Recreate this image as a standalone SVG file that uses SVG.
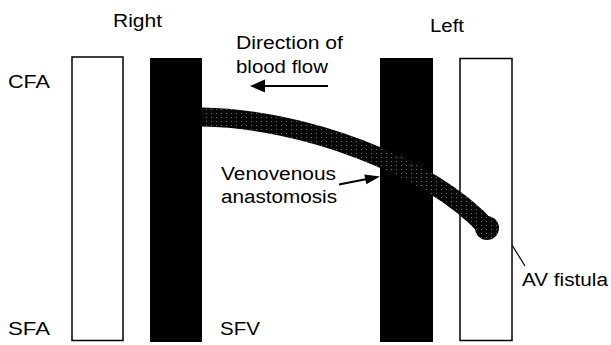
<svg xmlns="http://www.w3.org/2000/svg" width="611" height="345" viewBox="0 0 611 345">
  <style>
    .lbl { font-family: "Liberation Sans", Arial, sans-serif; font-size: 18px; fill: #000; }
    .artery { fill: #fff; stroke: #000; stroke-width: 1.5; }
    .vein { fill: #000; }
    .conn { stroke: #000; fill: none; }
  </style>
  <defs>
    <pattern id="stipple" patternUnits="userSpaceOnUse" width="5" height="4">
      <rect width="5" height="4" fill="#080808"/>
      <rect x="1" y="1" width="1" height="1" fill="#6e6e6e"/>
    </pattern>
  </defs>
  <rect width="611" height="345" fill="#fff"/>

  <g id="right-artery"><rect class="artery" x="72" y="57" width="51" height="283.5"/></g>
  <g id="right-vein"><rect class="vein" x="150" y="58" width="52" height="284"/></g>
  <g id="left-vein"><rect class="vein" x="380" y="58" width="53" height="284"/></g>
  <g id="left-artery"><rect class="artery" x="460" y="58.5" width="52" height="282"/></g>

  <g id="shunt">
    <path d="M202,117 C300,118 430,165 487,228" fill="none" stroke="url(#stipple)" stroke-width="19"/>
    <circle cx="487" cy="228" r="12" fill="url(#stipple)"/>
  </g>

  <g id="connectors">
    <line class="conn" x1="328" y1="86" x2="262" y2="86" stroke-width="2"/>
    <polygon points="250,86 265,79.5 265,92.5" fill="#000"/>
    <line class="conn" x1="339" y1="184.5" x2="367" y2="179" stroke-width="2"/>
    <polygon points="380,176.5 366.3,184.3 364.3,174.5" fill="#000"/>
    <line class="conn" x1="512" y1="245" x2="525" y2="266" stroke-width="1.2"/>
  </g>

  <g id="labels">
    <text class="lbl" x="113" y="27" textLength="49" lengthAdjust="spacingAndGlyphs">Right</text>
    <text class="lbl" x="430" y="32" textLength="34" lengthAdjust="spacingAndGlyphs">Left</text>
    <text class="lbl" x="8" y="88" textLength="42" lengthAdjust="spacingAndGlyphs">CFA</text>
    <text class="lbl" x="236" y="49" textLength="107" lengthAdjust="spacingAndGlyphs">Direction of</text>
    <text class="lbl" x="236" y="73" textLength="92" lengthAdjust="spacingAndGlyphs">blood flow</text>
    <text class="lbl" x="221" y="180" textLength="115" lengthAdjust="spacingAndGlyphs">Venovenous</text>
    <text class="lbl" x="221" y="203" textLength="116" lengthAdjust="spacingAndGlyphs">anastomosis</text>
    <text class="lbl" x="522" y="286" textLength="86" lengthAdjust="spacingAndGlyphs">AV fistula</text>
    <text class="lbl" x="8" y="335" textLength="42" lengthAdjust="spacingAndGlyphs">SFA</text>
    <text class="lbl" x="220" y="335" textLength="40" lengthAdjust="spacingAndGlyphs">SFV</text>
  </g>
</svg>
